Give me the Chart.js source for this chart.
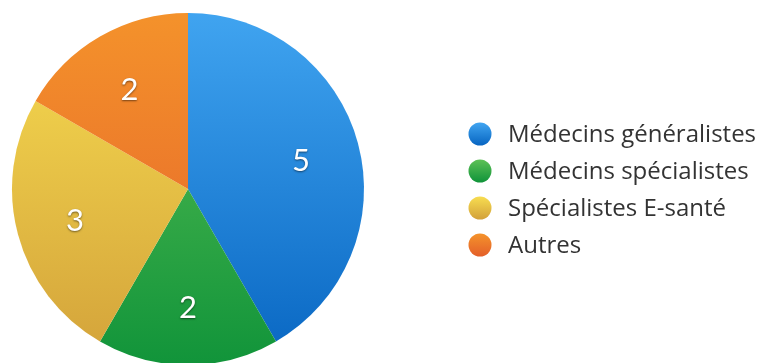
<!DOCTYPE html>
<html>
<head>
<meta charset="utf-8">
<script src="https://cdn.jsdelivr.net/npm/chart.js@4"></script>
<style>
html,body{margin:0;padding:0;background:#fff;}
#wrap{width:767px;height:363px;position:relative;}
</style>
</head>
<body>
<div id="wrap"><canvas id="c" width="767" height="363"></canvas></div>
<script>
const categories = ["Médecins généralistes", "Médecins spécialistes", "Spécialistes E-santé", "Autres"];
const values = [5, 2, 3, 2];
const topColors = ["#40a4f0", "#5cc055", "#f7dc50", "#f4922b"];
const bottomColors = ["#0866c2", "#11943a", "#d3a23a", "#e4602a"];
const PIE_RADIUS = 176;

function grad(ctx, chart, i) {
  const a = chart.chartArea;
  if (!a) return topColors[i];
  const cy = (a.top + a.bottom) / 2;
  const g = ctx.createLinearGradient(0, cy - PIE_RADIUS, 0, cy + PIE_RADIUS);
  g.addColorStop(0, topColors[i]);
  g.addColorStop(1, bottomColors[i]);
  return g;
}

const labelPlugin = {
  id: 'labels',
  afterDatasetsDraw(chart) {
    const ctx = chart.ctx;
    const meta = chart.getDatasetMeta(0);
    ctx.save();
    ctx.font = '400 31px Lato';
    ctx.textAlign = 'center';
    ctx.textBaseline = 'middle';
    meta.data.forEach((el, i) => {
      const mid = (el.startAngle + el.endAngle) / 2;
      const r = el.outerRadius * 0.665;
      const x = el.x + Math.cos(mid) * r;
      const y = el.y + Math.sin(mid) * r + 2;
      ctx.shadowColor = 'rgba(0,0,0,0.5)';
      ctx.shadowBlur = 2;
      ctx.shadowOffsetY = 1;
      ctx.fillStyle = '#ffffff';
      ctx.fillText(String(chart.data.datasets[0].data[i]), x, y);
    });
    ctx.restore();
  }
};

const legendPlugin = {
  id: 'customLegend',
  afterDraw(chart) {
    const ctx = chart.ctx;
    ctx.save();
    const x0 = 480, tx = 508, y0 = 134, step = 37;
    chart.data.labels.forEach((lab, i) => {
      const y = y0 + i * step;
      const g = ctx.createLinearGradient(0, y - 11, 0, y + 11);
      g.addColorStop(0, topColors[i]);
      g.addColorStop(1, bottomColors[i]);
      ctx.beginPath();
      ctx.arc(x0, y, 11.5, 0, Math.PI * 2);
      ctx.fillStyle = g;
      ctx.fill();
      ctx.fillStyle = '#333333';
      ctx.font = '24px "Open Sans"';
      ctx.textAlign = 'left';
      ctx.textBaseline = 'middle';
      ctx.fillText(lab, tx, y + 1);
    });
    ctx.restore();
  }
};

new Chart(document.getElementById('c'), {
  type: 'pie',
  data: {
    labels: categories,
    datasets: [{
      data: values,
      backgroundColor: (c) => grad(c.chart.ctx, c.chart, c.dataIndex),
      borderWidth: 0,
      clip: false,
      radius: PIE_RADIUS
    }]
  },
  options: {
    responsive: false,
    animation: false,
    layout: { padding: { left: 12, right: 403, top: 15, bottom: 0 } },
    plugins: { legend: { display: false }, tooltip: { enabled: false } }
  },
  plugins: [labelPlugin, legendPlugin]
});
</script>
</body>
</html>
